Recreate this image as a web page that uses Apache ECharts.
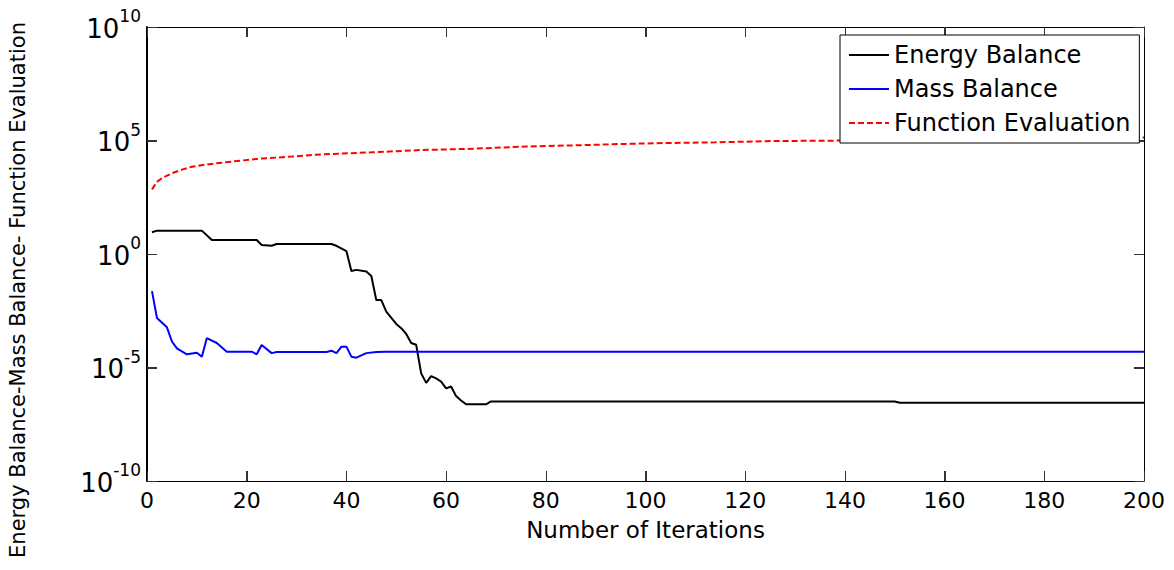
<!DOCTYPE html>
<html>
<head>
<meta charset="utf-8">
<script src="https://cdn.jsdelivr.net/npm/echarts@6/dist/echarts.min.js"></script>
<style>
  html, body { margin: 0; padding: 0; background: #fff; }
  #main { width: 1174px; height: 570px; }
</style>
</head>
<body>
<div id="main"></div>
<script>
// values (iteration, value)
var energyIter = [1, 2, 11, 13, 22, 23, 25, 26, 37, 38, 40, 41, 42, 44, 45, 46, 47, 48, 50, 51, 52, 53, 54, 55, 56, 57, 58, 59, 60, 61, 62, 63, 64, 68, 69, 150, 151, 200];
var energyVal = [9.1, 10.7, 10.7, 4.1, 4.1, 2.5, 2.3, 2.75, 2.75, 2.3, 1.35, 0.18, 0.2, 0.17, 0.107, 0.0093, 0.0093, 0.0029, 8.3e-4, 5.4e-4, 3e-4, 1.2e-4, 1e-4, 5.5e-6, 2.1e-6, 4.2e-6, 3.3e-6, 2.4e-6, 1.2e-6, 1.45e-6, 5.5e-7, 3.5e-7, 2.4e-7, 2.4e-7, 3.2e-7, 3.2e-7, 2.8e-7, 2.8e-7];

var massIter = [1, 2, 4, 5, 6, 8, 10, 11, 12, 14, 16, 21, 22, 23, 25, 26, 36, 37, 38, 39, 40, 41, 42, 44, 46, 48, 200];
var massVal = [0.023, 1.5e-3, 5.9e-4, 1.4e-4, 7e-5, 3.8e-5, 4.5e-5, 3e-5, 1.95e-4, 1.2e-4, 5e-5, 5e-5, 3.8e-5, 9.8e-5, 4.3e-5, 4.8e-5, 4.8e-5, 5.5e-5, 4.3e-5, 8.3e-5, 8.3e-5, 3e-5, 2.7e-5, 4.3e-5, 4.8e-5, 5e-5, 5e-5];

var funcIter = [1, 2, 3, 5, 7, 9, 12, 15, 22, 29, 35, 45, 55, 65, 76, 88, 96, 105, 114, 126, 137, 150, 170, 185, 200];
var funcVal = [700, 1500, 2200, 3600, 5200, 7000, 8800, 10500, 15500, 19500, 24500, 30000, 38000, 43000, 54000, 63000, 71000, 78000, 83000, 95000, 98000, 108000, 118000, 126000, 135000];

var seriesNames = ['Energy Balance', 'Mass Balance', 'Function Evaluation'];
var xTicks = [0, 20, 40, 60, 80, 100, 120, 140, 160, 180, 200];
var yTicks = [1e-10, 1e-5, 1, 1e5, 1e10];

function pairs(xs, ys) {
    return xs.map(function (x, i) { return [x, ys[i]]; });
}

var FONT = 'DejaVu Sans';
var TICK_LEN = 10;
var tickLine = { stroke: '#333', lineWidth: 1 };
var chart = echarts.init(document.getElementById('main'), null, { renderer: 'svg' });

function ticks() {
    return { show: true, inside: true, length: TICK_LEN, lineStyle: { color: '#333', width: 1 } };
}
var noSplit = { show: false };

// inside ticks on all four sides of the box, placed through the axes' scales
function renderXTick(params, api) {
    var cs = params.coordSys;
    var x = Math.round(api.coord([api.value(0), 1])[0]) + 0.5;
    var bottom = cs.y + cs.height, top = cs.y;
    return {
        type: 'group',
        children: [
            { type: 'line', shape: { x1: x, y1: bottom, x2: x, y2: bottom - TICK_LEN }, style: tickLine },
            { type: 'line', shape: { x1: x, y1: top, x2: x, y2: top + TICK_LEN }, style: tickLine }
        ]
    };
}
function renderYTick(params, api) {
    var cs = params.coordSys;
    var y = Math.round(api.coord([0, api.value(1)])[1]) + 0.5;
    var left = cs.x, right = cs.x + cs.width;
    return {
        type: 'group',
        children: [
            { type: 'line', shape: { x1: left, y1: y, x2: left + TICK_LEN, y2: y }, style: tickLine },
            { type: 'line', shape: { x1: right, y1: y, x2: right - TICK_LEN, y2: y }, style: tickLine }
        ]
    };
}

var option = {
    backgroundColor: '#fff',
    animation: false,
    grid: { left: 147, right: 30, top: 27, bottom: 89 },
    legend: {
        orient: 'vertical',
        left: 840,
        top: 35,
        itemWidth: 40,
        itemHeight: 14,
        itemGap: 10,
        padding: [8, 9, 8, 8],
        backgroundColor: '#fff',
        borderColor: '#000',
        borderWidth: 1,
        borderRadius: 0,
        itemStyle: { opacity: 0 },
        textStyle: { fontFamily: FONT, fontSize: 24, color: '#000' },
        data: seriesNames
    },
    xAxis: [{
        type: 'value',
        min: xTicks[0],
        max: xTicks[xTicks.length - 1],
        interval: 20,
        name: 'Number of Iterations',
        nameLocation: 'middle',
        nameGap: 37,
        nameTextStyle: { fontFamily: FONT, fontSize: 23, color: '#000' },
        axisLine: { show: true, onZero: false, lineStyle: { color: '#000', width: 1 } },
        axisTick: ticks(),
        axisLabel: { fontFamily: FONT, fontSize: 22, color: '#000', margin: 8 },
        splitLine: noSplit
    }, {
        type: 'value',
        position: 'top',
        min: xTicks[0],
        max: xTicks[xTicks.length - 1],
        interval: 20,
        axisLine: { show: true, onZero: false, lineStyle: { color: '#000', width: 1 } },
        axisTick: ticks(),
        axisLabel: { show: false },
        splitLine: noSplit
    }],
    yAxis: [{
        type: 'log',
        logBase: 10,
        min: yTicks[0],
        max: yTicks[yTicks.length - 1],
        interval: 5,
        axisLine: { show: true, onZero: false, lineStyle: { color: '#000', width: 2 } },
        axisTick: ticks(),
        axisLabel: {
            margin: 6,
            color: '#000',
            formatter: function (v) {
                var e = Math.round(Math.log10(v));
                return '{b|10}{s|' + e + '}';
            },
            rich: {
                b: { fontFamily: FONT, fontSize: 26, color: '#000', verticalAlign: 'middle', lineHeight: 26, padding: [3, 0, 0, 0] },
                s: { fontFamily: FONT, fontSize: 17, color: '#000', verticalAlign: 'middle', lineHeight: 17, padding: [0, 0, 22, 0] }
            }
        },
        splitLine: noSplit
    }, {
        type: 'log',
        logBase: 10,
        position: 'right',
        min: yTicks[0],
        max: yTicks[yTicks.length - 1],
        interval: 5,
        axisLine: { show: true, onZero: false, lineStyle: { color: '#000', width: 1 } },
        axisTick: ticks(),
        axisLabel: { show: false },
        splitLine: noSplit
    }],
    graphic: [{
        type: 'text',
        x: 18,
        y: 290,
        rotation: Math.PI / 2,
        style: {
            text: 'Energy Balance-Mass Balance- Function Evaluation',
            fontFamily: FONT,
            fontSize: 21,
            fill: '#000',
            align: 'center',
            verticalAlign: 'middle'
        }
    }],
    series: [{
        name: seriesNames[0],
        type: 'line',
        data: pairs(energyIter, energyVal),
        symbol: 'none',
        lineStyle: { color: '#000', width: 2 },
        itemStyle: { color: '#000' }
    }, {
        name: seriesNames[1],
        type: 'line',
        data: pairs(massIter, massVal),
        symbol: 'none',
        lineStyle: { color: '#0000ff', width: 2 },
        itemStyle: { color: '#0000ff' }
    }, {
        name: seriesNames[2],
        type: 'line',
        data: pairs(funcIter, funcVal),
        symbol: 'none',
        lineStyle: { color: '#ff0000', width: 2, type: [6, 3] },
        itemStyle: { color: '#ff0000' }
    }, {
        name: 'xticks',
        type: 'custom',
        silent: true,
        clip: false,
        z: 3,
        renderItem: renderXTick,
        data: xTicks.map(function (v) { return [v, 1]; })
    }, {
        name: 'yticks',
        type: 'custom',
        silent: true,
        clip: false,
        z: 3,
        renderItem: renderYTick,
        data: yTicks.map(function (v) { return [0, v]; })
    }]
};

chart.setOption(option);
</script>
</body>
</html>
